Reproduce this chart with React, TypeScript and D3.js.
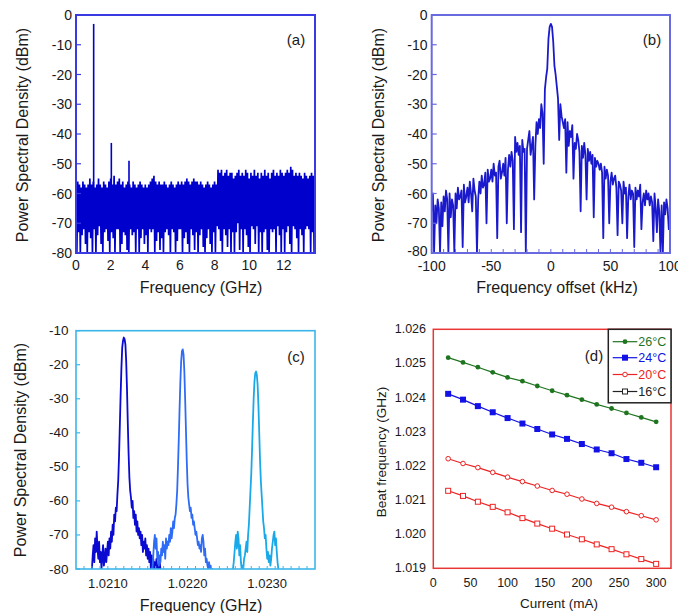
import React from 'react';
import * as d3 from 'd3';

const FONT = "'Liberation Sans', Arial, Helvetica, sans-serif";

// ---------- Panel (a): RF spectrum 0–13.8 GHz ----------
const aStart = 0;
const aStep = 0.1;
const aHi = [
  -52, -56, -57, -58, -56, -57, -58, -57, -55, -57,
  -56, -58, -57, -55, -57, -58, -56, -57, -58, -56,
  -55, -57, -54, -57, -56, -55, -57, -56, -58, -57,
  -56, -57, -58, -56, -57, -58, -57, -56, -57, -58,
  -57, -58, -57, -56, -55, -54, -56, -57, -56, -57,
  -57, -56, -57, -58, -57, -56, -57, -58, -57, -56,
  -57, -56, -57, -56, -55, -56, -57, -56, -55, -56,
  -56, -57, -56, -57, -58, -57, -56, -57, -58, -57,
  -56, -57, -52, -53, -52, -54, -53, -52, -54, -53,
  -53, -55, -54, -53, -52, -54, -53, -54, -52, -53,
  -55, -53, -54, -52, -54, -53, -55, -53, -54, -52,
  -54, -53, -55, -53, -52, -54, -53, -54, -52, -53,
  -54, -53, -52, -53, -51, -52, -54, -53, -54, -53,
  -54, -55, -53, -54, -55, -54, -53, -54, -55,
];
const aLo = [
  -80, -73, -80, -74, -72, -77, -80, -73, -75, -80,
  -72, -80, -74, -71, -77, -80, -73, -72, -76, -80,
  -73, -75, -80, -72, -72, -80, -77, -73, -74, -79,
  -80, -72, -74, -73, -80, -72, -80, -75, -72, -77,
  -74, -80, -72, -73, -72, -80, -76, -73, -79, -75,
  -80, -73, -72, -74, -80, -72, -73, -80, -76, -72,
  -72, -80, -75, -73, -77, -80, -72, -74, -79, -73,
  -80, -74, -72, -78, -80, -75, -72, -77, -80, -73,
  -80, -71, -72, -76, -80, -72, -74, -78, -72, -80,
  -73, -80, -73, -70, -79, -72, -80, -72, -74, -78,
  -80, -71, -72, -77, -71, -80, -73, -80, -73, -72,
  -79, -80, -72, -73, -72, -80, -71, -74, -80, -72,
  -80, -73, -71, -77, -80, -71, -72, -75, -80, -72,
  -74, -80, -72, -71, -72, -80, -73, -80, -75,
];
const aPeakFreq = [1.02, 2.04, 3.06];
const aPeakLevel = [-3, -43, -49];
const aXTicks = [0, 2, 4, 6, 8, 10, 12];
const psdTicks = [0, -10, -20, -30, -40, -50, -60, -70, -80];

// ---------- Panel (b): spectrum around beat note, -100..100 kHz ----------
const bStart = -100;
const bStep = 1;
const bTrace = [
  -66, -60, -80, -64, -70, -62, -65, -80, -63, -71,
  -61, -66, -59, -62, -80, -60, -68, -62, -64, -80,
  -60, -65, -58, -62, -61, -59, -78, -57, -63, -61,
  -58, -63, -56, -60, -66, -55, -59, -61, -80, -62,
  -56, -60, -54, -58, -57, -53, -70, -52, -56, -55,
  -52, -56, -50, -54, -53, -75, -51, -49, -55, -53,
  -50, -54, -48, -70, -52, -47, -51, -46, -49, -72,
  -41, -46, -43, -47, -44, -73, -42, -46, -45, -80,
  -45, -42, -39, -47, -44, -41, -62, -44, -36, -40,
  -35, -38, -30, -33, -50, -25, -21, -18, -8, -4,
  -3,
  -4, -9, -17, -20, -24, -28, -42, -30, -34, -36,
  -38, -35, -53, -36, -44, -39, -41, -37, -55, -43,
  -45, -40, -42, -46, -66, -44, -48, -43, -47, -62,
  -45, -49, -46, -50, -47, -68, -48, -51, -49, -50,
  -52, -50, -53, -75, -51, -55, -52, -54, -70, -56,
  -53, -57, -55, -54, -58, -74, -56, -57, -59, -70,
  -56, -60, -58, -75, -61, -57, -62, -59, -60, -78,
  -58, -62, -59, -61, -57, -72, -63, -60, -64, -59,
  -62, -60, -64, -61, -63, -76, -60, -65, -73, -62,
  -66, -80, -64, -80, -63, -67, -62, -65, -72, -68,
];
const bXTicks = [-100, -50, 0, 50, 100];

// ---------- Panel (c): three beat spectra ----------
const cStep = 0.00001;
const c1Start = 1.0208;
const c1Trace = [
  -80, -76, -73, -78, -71, -75, -69, -74, -77, -72,
  -78, -75, -80, -76, -73, -79, -77, -74, -78, -75,
  -72, -76, -71, -74, -69, -72, -67, -70, -64, -66,
  -62, -63, -58, -54, -47, -38, -29, -21, -15, -13,
  -12, -12.5, -14, -19, -27, -37, -46, -53, -57, -59,
  -62, -60, -65, -63, -67, -64, -69, -66, -70, -68,
  -71, -69, -73, -70, -75, -72, -74, -71, -76, -73,
  -77, -74, -78, -75, -80, -76, -79, -77, -80, -78,
  -80, -77, -80, -79, -80, -78, -80,
];
const c2Start = 1.02156;
const c2Trace = [
  -80, -76, -72, -70, -74, -71, -77, -75, -79, -76,
  -78, -74, -76, -72, -75, -73, -77, -71, -74, -72,
  -73, -70, -72, -68, -71, -69, -66, -68, -65, -64,
  -61, -57, -50, -42, -33, -25, -19, -16, -15.5, -17,
  -22, -30, -39, -48, -55, -59, -61, -63, -62, -65,
  -64, -67, -66, -68, -70, -69, -71, -73, -72, -74,
  -73, -75, -71, -70, -72, -76, -74, -78, -77, -79,
  -80, -78, -80, -79, -80, -80, -80,
];
const c3Start = 1.02257;
const c3Trace = [
  -80, -78, -75, -72, -70, -74, -69, -71, -76, -73,
  -78, -80, -79, -80, -77, -76, -74, -72, -75, -70,
  -67, -62, -57, -52, -45, -37, -30, -25, -22.5, -22,
  -23, -26, -32, -40, -48, -54, -58, -62, -66, -68,
  -71, -70, -74, -77, -75, -78, -76, -79, -77, -74,
  -72, -70, -69, -73, -71, -75, -78, -80,
];
const cXTicks = [1.021, 1.022, 1.023];
const cYTicks = [-10, -20, -30, -40, -50, -60, -70, -80];

// ---------- Panel (d): beat frequency vs current ----------
const dCurrent = [20, 40, 60, 80, 100, 120, 140, 160, 180, 200, 220, 240, 260, 280, 300];
const d26 = [1.02517, 1.02503, 1.02489, 1.02474, 1.02459, 1.02448, 1.02434, 1.0242, 1.02407, 1.02394, 1.0238, 1.02368, 1.02355, 1.02342, 1.02329];
const d24 = [1.02411, 1.02394, 1.02375, 1.02357, 1.0234, 1.02324, 1.02308, 1.02292, 1.02279, 1.02264, 1.02248, 1.02237, 1.0222, 1.02209, 1.02196];
const d20 = [1.02221, 1.02207, 1.02195, 1.02181, 1.02167, 1.02154, 1.02141, 1.02128, 1.02117, 1.02103, 1.0209, 1.02079, 1.02066, 1.02054, 1.02042];
const d16 = [1.02127, 1.02112, 1.02095, 1.0208, 1.02064, 1.02047, 1.02031, 1.02016, 1.01999, 1.01985, 1.0197, 1.01956, 1.01941, 1.01927, 1.01913];
const dXTicks = [0, 50, 100, 150, 200, 250, 300];
const dYTicks = [1.019, 1.02, 1.021, 1.022, 1.023, 1.024, 1.025, 1.026];
const dLegend = ['26°C', '24°C', '20°C', '16°C'];

const TXT = '#1a1a1a';

function zigzag(start: number, step: number, hi: number[], lo: number[]): [number, number][] {
  const pts: [number, number][] = [];
  hi.forEach((h, i) => {
    pts.push([start + i * step, h]);
    pts.push([start + (i + 0.5) * step, lo[i]]);
  });
  return pts;
}

function series(start: number, step: number, vals: number[]): [number, number][] {
  return vals.map((v, i) => [start + i * step, v]);
}

function YLabel({ x, y, size, text }: { x: number; y: number; size: number; text: string }) {
  return (
    <text x={x} y={y} transform={`rotate(-90 ${x} ${y})`} textAnchor="middle" dominantBaseline="central"
      fontSize={size} fontFamily={FONT} fill={TXT}>{text}</text>
  );
}

function PanelA() {
  const x = d3.scaleLinear().domain([0, 13.8]).range([76, 315]);
  const y = d3.scaleLinear().domain([-80, 0]).range([253, 15]);
  const line = d3.line<[number, number]>().x(d => x(d[0])).y(d => y(d[1]));
  const pts = zigzag(aStart, aStep, aHi, aLo);
  const axisC = '#3a3ae2';
  return (
    <g>
      <defs>
        <clipPath id="clipA"><rect x={76} y={15} width={239} height={238} /></clipPath>
      </defs>
      <g clipPath="url(#clipA)">
        <path d={line(pts) || ''} fill="none" stroke="#0000cc" strokeWidth={1.7} />
        {aPeakFreq.map((f, i) => (
          <line key={i} x1={x(f)} x2={x(f)} y1={y(-60)} y2={y(aPeakLevel[i])} stroke="#0000cc" strokeWidth={1.6} />
        ))}
      </g>
      <rect x={76} y={15} width={239} height={238} fill="none" stroke={axisC} strokeWidth={2} />
      {psdTicks.map(t => (
        <g key={t}>
          <line x1={76} x2={81} y1={y(t)} y2={y(t)} stroke={axisC} strokeWidth={1.2} />
          <text x={72} y={y(t)} textAnchor="end" dominantBaseline="central" fontSize={14} fontFamily={FONT} fill={TXT}>{t}</text>
        </g>
      ))}
      {aXTicks.map(t => (
        <text key={t} x={x(t)} y={265} textAnchor="middle" dominantBaseline="central" fontSize={14} fontFamily={FONT} fill={TXT}>{t}</text>
      ))}
      <text x={201} y={287} textAnchor="middle" dominantBaseline="central" fontSize={16} fontFamily={FONT} fill={TXT}>Frequency (GHz)</text>
      <YLabel x={22} y={135} size={16} text="Power Spectral Density (dBm)" />
      <text x={296} y={39} textAnchor="middle" dominantBaseline="central" fontSize={15} fontFamily={FONT} fill={TXT}>(a)</text>
    </g>
  );
}

function PanelB() {
  const x = d3.scaleLinear().domain([-100, 100]).range([431.7, 670]);
  const y = d3.scaleLinear().domain([-80, 0]).range([253, 15]);
  const line = d3.line<[number, number]>().x(d => x(d[0])).y(d => y(d[1]));
  const pts = series(bStart, bStep, bTrace);
  const axisC = '#6a6ae0';
  const minor = d3.range(-90, 100, 10);
  return (
    <g>
      <defs>
        <clipPath id="clipB"><rect x={431.7} y={15} width={238.3} height={238} /></clipPath>
      </defs>
      <g clipPath="url(#clipB)">
        <path d={line(pts) || ''} fill="none" stroke="#1a1acc" strokeWidth={1.8} strokeLinejoin="round" />
      </g>
      <rect x={431.7} y={15} width={238.3} height={238} fill="none" stroke={axisC} strokeWidth={2} />
      {minor.map(t => (
        <line key={t} x1={x(t)} x2={x(t)} y1={253} y2={249} stroke={axisC} strokeWidth={1} />
      ))}
      {psdTicks.map(t => (
        <g key={t}>
          <line x1={431.7} x2={436.7} y1={y(t)} y2={y(t)} stroke={axisC} strokeWidth={1.2} />
          <text x={427.5} y={t === -80 ? y(t) - 2 : y(t)} textAnchor="end" dominantBaseline="central" fontSize={14} fontFamily={FONT} fill={TXT}>{t}</text>
        </g>
      ))}
      {bXTicks.map(t => (
        <text key={t} x={x(t)} y={266} textAnchor="middle" dominantBaseline="central" fontSize={14} fontFamily={FONT} fill={TXT}>{t}</text>
      ))}
      <text x={557} y={287} textAnchor="middle" dominantBaseline="central" fontSize={16} fontFamily={FONT} fill={TXT}>Frequency offset (kHz)</text>
      <YLabel x={378} y={135} size={16} text="Power Spectral Density (dBm)" />
      <text x={652} y={39} textAnchor="middle" dominantBaseline="central" fontSize={15} fontFamily={FONT} fill={TXT}>(b)</text>
    </g>
  );
}

function PanelC() {
  const x = d3.scaleLinear().domain([1.0206, 1.0236]).range([76, 315]);
  const y = d3.scaleLinear().domain([-80, -10]).range([569, 330.7]);
  const line = d3.line<[number, number]>().x(d => x(d[0])).y(d => y(d[1]));
  const axisC = '#3cb6ea';
  const minor = d3.range(1, 30).map(i => 1.0206 + i * 0.0001);
  const traces = [
    { start: c1Start, vals: c1Trace, color: '#0a0ad0' },
    { start: c2Start, vals: c2Trace, color: '#2f6cf6' },
    { start: c3Start, vals: c3Trace, color: '#1aa9e8' },
  ];
  return (
    <g>
      <defs>
        <clipPath id="clipC"><rect x={76} y={330.7} width={239} height={238.3} /></clipPath>
      </defs>
      <g clipPath="url(#clipC)">
        {traces.map((t, i) => (
          <path key={i} d={line(series(t.start, cStep, t.vals)) || ''} fill="none" stroke={t.color} strokeWidth={1.8} strokeLinejoin="round" />
        ))}
      </g>
      <rect x={76} y={330.7} width={239} height={238.3} fill="none" stroke={axisC} strokeWidth={1.6} />
      {minor.map((t, i) => (
        <line key={i} x1={x(t)} x2={x(t)} y1={569} y2={566} stroke={axisC} strokeWidth={1} />
      ))}
      {cYTicks.map(t => (
        <g key={t}>
          <line x1={76} x2={80} y1={y(t)} y2={y(t)} stroke={axisC} strokeWidth={1.2} />
          <text x={68.5} y={y(t)} textAnchor="end" dominantBaseline="central" fontSize={13.5} fontFamily={FONT} fill={TXT}>{t}</text>
        </g>
      ))}
      {cXTicks.map(t => (
        <text key={t} x={x(t)} y={583} textAnchor="middle" dominantBaseline="central" fontSize={13} fontFamily={FONT} fill={TXT}>{t.toFixed(4)}</text>
      ))}
      <text x={201} y={605} textAnchor="middle" dominantBaseline="central" fontSize={16} fontFamily={FONT} fill={TXT}>Frequency (GHz)</text>
      <YLabel x={20} y={450} size={16} text="Power Spectral Density (dBm)" />
      <text x={296} y={356} textAnchor="middle" dominantBaseline="central" fontSize={15} fontFamily={FONT} fill={TXT}>(c)</text>
    </g>
  );
}

function Marker({ kind, cx, cy, color }: { kind: string; cx: number; cy: number; color: string }) {
  if (kind === 'dot') return <circle cx={cx} cy={cy} r={2.4} fill={color} />;
  if (kind === 'sq') return <rect x={cx - 3} y={cy - 3} width={6} height={6} fill={color} />;
  if (kind === 'ocirc') return <circle cx={cx} cy={cy} r={2.3} fill="#fff" stroke={color} strokeWidth={1} />;
  return <rect x={cx - 2.5} y={cy - 2.5} width={5} height={5} fill="#fff" stroke={color} strokeWidth={1} />;
}

function PanelD() {
  const x = d3.scaleLinear().domain([0, 320]).range([433.3, 671]);
  const y = d3.scaleLinear().domain([1.019, 1.026]).range([568.3, 329.3]);
  const line = d3.line<number>().x((_, i) => x(dCurrent[i])).y(d => y(d));
  const axisC = '#e83535';
  const sets = [
    { vals: d26, color: '#1f741f', kind: 'dot', legColor: '#1f741f' },
    { vals: d24, color: '#1212e6', kind: 'sq', legColor: '#1212e6' },
    { vals: d20, color: '#ee2222', kind: 'ocirc', legColor: '#ee2222' },
    { vals: d16, color: '#ee2222', kind: 'osq', legColor: '#222222' },
  ];
  const legY = [341.7, 357.7, 374.5, 391.5];
  return (
    <g>
      {sets.map((s, i) => (
        <g key={i}>
          <path d={line(s.vals) || ''} fill="none" stroke={s.color} strokeWidth={1.2} />
          {s.vals.map((v, j) => <Marker key={j} kind={s.kind} cx={x(dCurrent[j])} cy={y(v)} color={s.color} />)}
        </g>
      ))}
      <rect x={433.3} y={329.3} width={237.7} height={239} fill="none" stroke={axisC} strokeWidth={1.5} />
      {dYTicks.map(t => (
        <text key={t} x={426} y={y(t)} textAnchor="end" dominantBaseline="central" fontSize={12.5} fontFamily={FONT} fill={TXT}>{t.toFixed(3)}</text>
      ))}
      {dXTicks.map(t => (
        <text key={t} x={x(t)} y={583} textAnchor="middle" dominantBaseline="central" fontSize={12.5} fontFamily={FONT} fill={TXT}>{t}</text>
      ))}
      <text x={559} y={603} textAnchor="middle" dominantBaseline="central" fontSize={13.5} fontFamily={FONT} fill={TXT}>Current (mA)</text>
      <YLabel x={381} y={452} size={13.5} text="Beat frequency (GHz)" />
      <text x={594} y={355} textAnchor="middle" dominantBaseline="central" fontSize={15} fontFamily={FONT} fill={TXT}>(d)</text>
      <rect x={608.3} y={329.3} width={62.7} height={73.5} fill="#fff" stroke="#222" strokeWidth={1.5} />
      {sets.map((s, i) => (
        <g key={i}>
          <line x1={612.7} x2={637.3} y1={legY[i]} y2={legY[i]} stroke={s.legColor} strokeWidth={1.2} />
          <Marker kind={s.kind} cx={625} cy={legY[i]} color={s.legColor} />
          <text x={638.3} y={legY[i]} dominantBaseline="central" fontSize={12.5} fontFamily={FONT} fill={s.legColor}>{dLegend[i]}</text>
        </g>
      ))}
    </g>
  );
}

export default function App() {
  return (
    <svg width={678} height={613} style={{ position: 'absolute', left: 0, top: 0, background: '#fff' }}>
      <rect x={0} y={0} width={678} height={613} fill="#fff" />
      <PanelA />
      <PanelB />
      <PanelC />
      <PanelD />
    </svg>
  );
}
